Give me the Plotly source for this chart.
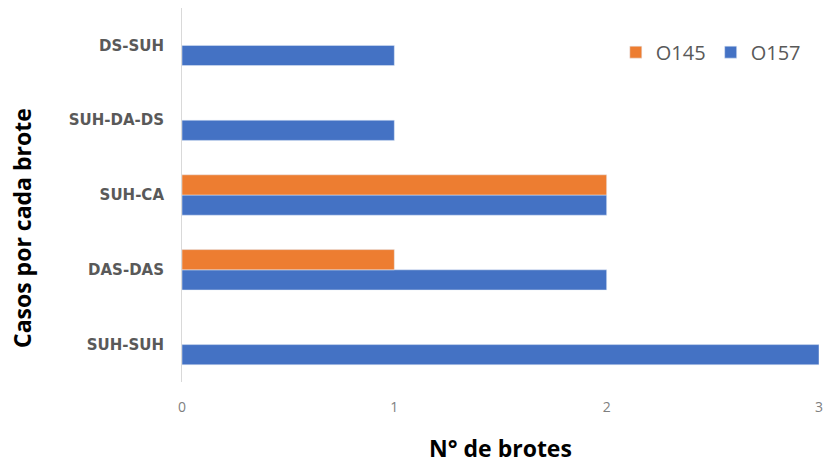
import plotly.graph_objects as go

categories = ["SUH-SUH", "DAS-DAS", "SUH-CA", "SUH-DA-DS", "DS-SUH"]
o157 = [3, 2, 2, 1, 1]
o145 = [None, 1, 2, None, None]
x_ticks = [0, 1, 2, 3]

fig = go.Figure()
fig.add_trace(go.Bar(y=categories, x=o157, name="O157", orientation="h",
                     marker_color="#4472C4"))
fig.add_trace(go.Bar(y=categories, x=o145, name="O145", orientation="h",
                     marker_color="#ED7D31"))

fig.update_layout(
    width=824, height=465,
    margin=dict(l=182, r=5, t=8, b=83),
    paper_bgcolor="white", plot_bgcolor="white",
    barmode="group", bargap=0.46, bargroupgap=0,
    font=dict(family="Open Sans, Lato, sans-serif", color="#595959"),
    showlegend=True,
    legend=dict(orientation="h", x=0.681, y=0.882, xanchor="left", yanchor="middle",
                traceorder="reversed", font=dict(size=20, color="#595959"),
                bgcolor="rgba(0,0,0,0)"),
    xaxis=dict(range=[0, 3], tickvals=x_ticks, showgrid=False, zeroline=False,
               showline=False, ticks="", tickfont=dict(size=14, color="#7f7f7f"),
               ticklabelstandoff=15, automargin=False),
    yaxis=dict(categoryorder="array", categoryarray=categories,
               showgrid=False, zeroline=False, showline=True, linecolor="#d9d9d9",
               linewidth=1, ticks="", ticklabelstandoff=14, automargin=False,
               tickfont=dict(size=15, color="#595959", family="DejaVu Sans",
                             weight="bold")),
    annotations=[
        dict(text="<b>Casos por cada brote</b>", xref="paper", yref="paper",
             x=-0.251, y=0.412, xanchor="center", yanchor="middle",
             textangle=-90, showarrow=False, font=dict(size=23, color="black")),
        dict(text="<b>N° de brotes</b>", xref="paper", yref="paper",
             x=0.5, y=-0.1765, xanchor="center", yanchor="middle",
             showarrow=False, borderpad=0, font=dict(size=23, color="black")),
    ],
)

fig.write_html("out.html", config={"displayModeBar": False},
               post_script="document.body.style.margin='0';")
